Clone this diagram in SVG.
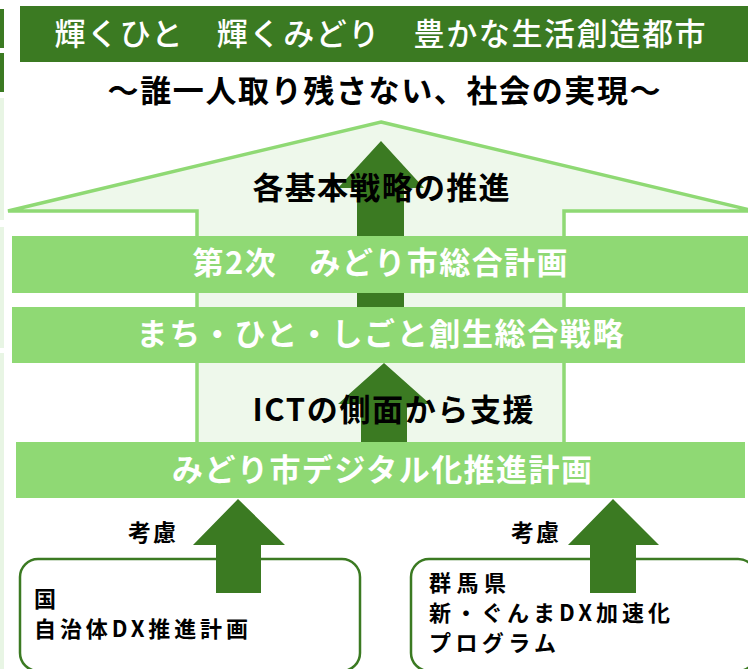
<svg xmlns="http://www.w3.org/2000/svg" width="748" height="669" viewBox="0 0 748 669">
  <style>
    text { font-family: "Noto Sans CJK JP", "Noto Sans", sans-serif; }
    .dark { fill: #3b7a22; }
    .band { fill: #8fd974; }
    .wt { fill: #ffffff; font-size: 31px; font-weight: 700; text-anchor: middle; }
    .bk { fill: #000000; font-size: 31px; font-weight: 700; text-anchor: middle; }
    .sm { fill: #000000; font-size: 23px; font-weight: 700; }
    .bx { fill: #000000; font-size: 22px; font-weight: 700; }
    .box { fill: #ffffff; stroke: #3b7a22; stroke-width: 2.5; }
  </style>
  <rect width="748" height="669" fill="#ffffff"/>
  <g id="edge">
    <rect x="0" y="9" width="4" height="39" class="dark"/>
    <rect x="0" y="53" width="4" height="39" class="dark"/>
    <rect x="0" y="98" width="4" height="122" fill="#e8f5e4"/>
    <rect x="0" y="227" width="4" height="121" fill="#e8f5e4"/>
    <rect x="0" y="353" width="4" height="316" fill="#e8f5e4"/>
  </g>
  <g id="banner">
    <rect x="20" y="6" width="728" height="56" class="dark"/>
    <text x="380" y="45" fill="#ffffff" font-size="31" font-weight="500" text-anchor="middle" textLength="651" lengthAdjust="spacing">輝くひと　輝くみどり　豊かな生活創造都市</text>
  </g>
  <g id="subtitle">
    <text x="384" y="102" class="bk" textLength="553" lengthAdjust="spacing">～誰一人取り残さない、社会の実現～</text>
  </g>
  <g id="outline-arrow">
    <path d="M381,122 L754,211 L564,211 L564,470 L197,470 L197,211 L8,211 Z" fill="#eef8eb" stroke="#8fd974" stroke-width="3.5" stroke-linejoin="miter"/>
  </g>
  <g id="connectors">
    <path d="M381,141 L424,188 L404,188 L404,310 L357,310 L357,188 L338,188 Z" class="dark"/>
    <path d="M384,363 L430,404 L407,404 L407,445 L361,445 L361,404 L338,404 Z" class="dark"/>
  </g>
  <g id="strategy-label">
    <text x="381" y="199" class="bk" textLength="257" lengthAdjust="spacing">各基本戦略の推進</text>
  </g>
  <g id="band1">
    <rect x="12" y="236" width="736" height="57" class="band"/>
    <text x="380" y="274" class="wt" font-weight="500" textLength="375" lengthAdjust="spacing">第2次　みどり市総合計画</text>
  </g>
  <g id="band2">
    <rect x="12" y="307" width="733" height="56" class="band"/>
    <text x="380" y="345" class="wt" textLength="487" lengthAdjust="spacing">まち・ひと・しごと創生総合戦略</text>
  </g>
  <g id="ict-label">
    <text x="393" y="421" class="bk" textLength="281" lengthAdjust="spacing">ICTの側面から支援</text>
  </g>
  <g id="band3">
    <rect x="16" y="442" width="729" height="56" class="band"/>
    <text x="382" y="481" class="wt" textLength="420" lengthAdjust="spacing">みどり市デジタル化推進計画</text>
  </g>
  <g id="box-national">
    <rect x="20" y="559" width="340" height="112" rx="18" ry="18" class="box"/>
    <text x="34" y="607" class="bx">国</text>
    <text x="34" y="637" class="bx" textLength="214" lengthAdjust="spacing">自治体DX推進計画</text>
  </g>
  <g id="box-gunma">
    <rect x="411" y="559" width="345" height="112" rx="18" ry="18" class="box"/>
    <text x="429" y="591" class="bx" textLength="77" lengthAdjust="spacing">群馬県</text>
    <text x="429" y="621" class="bx" textLength="241" lengthAdjust="spacing">新・ぐんまDX加速化</text>
    <text x="429" y="651" class="bx" textLength="127" lengthAdjust="spacing">プログラム</text>
  </g>
  <g id="consider-arrows">
    <path d="M238,499 L285,545 L261,545 L261,593 L216,593 L216,545 L193,545 Z" class="dark"/>
    <path d="M613,499 L659,545 L636,545 L636,593 L590,593 L590,545 L568,545 Z" class="dark"/>
    <text x="128" y="541" class="sm" textLength="48" lengthAdjust="spacing">考慮</text>
    <text x="511" y="541" class="sm" textLength="48" lengthAdjust="spacing">考慮</text>
  </g>
</svg>
